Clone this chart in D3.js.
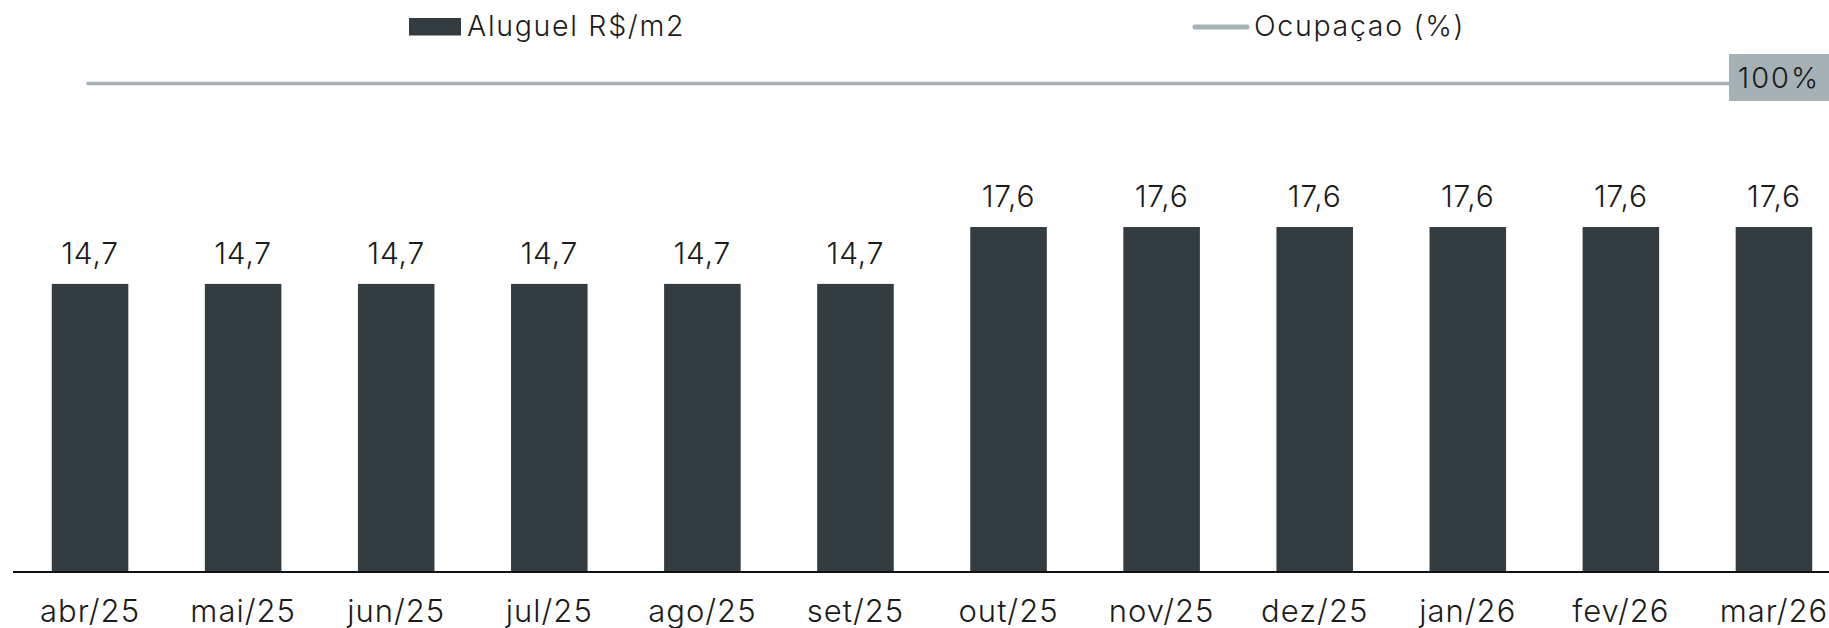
<!DOCTYPE html>
<html>
<head>
<meta charset="utf-8">
<script src="https://cdn.jsdelivr.net/npm/d3@7"></script>
<style>
  body { margin: 0; background: #fff; }
  text { font-family: Inter, "Noto Sans", sans-serif; font-weight: 300; fill: #1b1b1b; }
</style>
</head>
<body>
<script>
// Chart data
var months = ["abr/25", "mai/25", "jun/25", "jul/25", "ago/25", "set/25",
              "out/25", "nov/25", "dez/25", "jan/26", "fev/26", "mar/26"];
var aluguel = [14.7, 14.7, 14.7, 14.7, 14.7, 14.7, 17.6, 17.6, 17.6, 17.6, 17.6, 17.6];
var ocupacao = [100, 100, 100, 100, 100, 100, 100, 100, 100, 100, 100, 100];

var width = 1829,
    height = 628;

var barColor = "#323c41",
    lineColor = "#a5b1b5";

var svg = d3.select("body").append("svg")
    .attr("width", width)
    .attr("height", height);

// Scales
var x = d3.scaleBand()
    .domain(months)
    .range([13.5, 1850.5])
    .paddingInner(0.5)
    .paddingOuter(0.25);

var y = d3.scaleLinear()
    .domain([0, 20])
    .range([572, 180]);

// Secondary axis for occupancy
var y2 = d3.scaleLinear()
    .domain([0, 100])
    .range([572, 83.5]);

var fmt = function(v) { return d3.format(".1f")(v).replace(".", ","); };

// Bars
svg.append("g").selectAll("rect")
    .data(aluguel)
  .enter().append("rect")
    .attr("x", function(d, i) { return x(months[i]); })
    .attr("y", function(d) { return y(d); })
    .attr("width", x.bandwidth())
    .attr("height", function(d) { return y(0) - y(d); })
    .attr("fill", barColor);

// Bar labels
svg.append("g").selectAll("text")
    .data(aluguel)
  .enter().append("text")
    .attr("x", function(d, i) { return x(months[i]) + x.bandwidth() / 2; })
    .attr("y", function(d) { return y(d) - 20; })
    .attr("text-anchor", "middle")
    .style("font-size", "30px")
    .style("letter-spacing", "0.8px")
    .text(fmt);

// X axis
var xAxis = svg.append("g")
    .attr("transform", "translate(0," + y(0) + ")")
    .call(d3.axisBottom(x).tickSize(0).tickPadding(28));
xAxis.select(".domain").remove();
xAxis.append("line")
    .attr("x1", 13).attr("x2", width)
    .attr("stroke", "#111").attr("stroke-width", 2);
xAxis.selectAll(".tick text")
    .style("font-size", "31px")
    .style("font-family", "Inter, 'Noto Sans', sans-serif")
    .style("font-weight", 300)
    .style("letter-spacing", "1px")
    .attr("fill", "#1b1b1b")
    .attr("dy", "0.71em");

// Occupancy line
var line = d3.line()
    .x(function(d, i) { return x(months[i]) + x.bandwidth() / 2 - 2; })
    .y(function(d) { return y2(d); });

svg.append("path")
    .datum(ocupacao)
    .attr("d", line)
    .attr("fill", "none")
    .attr("stroke", lineColor)
    .attr("stroke-width", 3.5)
    .attr("stroke-linecap", "round");

// Label of the last occupancy point
var last = ocupacao.length - 1;
var lx = x(months[last]) + x.bandwidth() / 2 + 5;
var lbl = svg.append("g");
lbl.append("rect")
    .attr("x", lx - 50)
    .attr("y", y2(ocupacao[last]) - 29.5)
    .attr("width", 105)
    .attr("height", 47)
    .attr("fill", lineColor);
lbl.append("text")
    .attr("x", lx)
    .attr("y", y2(ocupacao[last]) + 4.5)
    .attr("text-anchor", "middle")
    .style("font-size", "29px")
    .style("letter-spacing", "2px")
    .text(ocupacao[last] + "%");

// Legend
var legend = svg.append("g");
legend.append("rect")
    .attr("x", 409).attr("y", 18)
    .attr("width", 52).attr("height", 17.5)
    .attr("fill", barColor);
legend.append("text")
    .attr("x", 467).attr("y", 36)
    .style("font-size", "28.5px")
    .style("letter-spacing", "1.7px")
    .text("Aluguel R$/m2");
legend.append("line")
    .attr("x1", 1195).attr("x2", 1247)
    .attr("y1", 27).attr("y2", 27)
    .attr("stroke", lineColor)
    .attr("stroke-width", 5)
    .attr("stroke-linecap", "round");
legend.append("text")
    .attr("x", 1254).attr("y", 36)
    .style("font-size", "28.5px")
    .style("letter-spacing", "1.7px")
    .text("Ocupaçao (%)");
</script>
</body>
</html>
